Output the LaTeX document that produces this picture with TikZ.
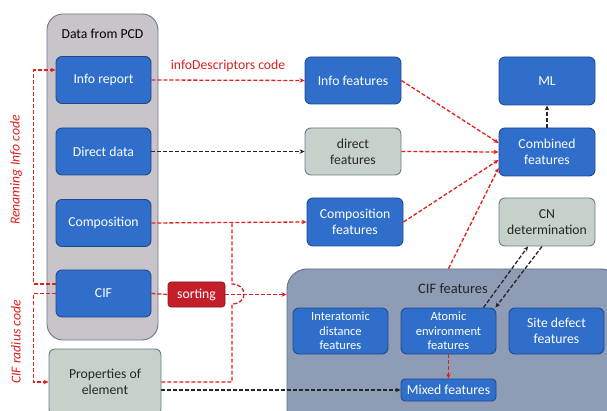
\documentclass[tikz,border=0pt]{standalone}
\usepackage{fontspec}
\setmainfont{Carlito}
\usetikzlibrary{arrows.meta}
\definecolor{bluebox}{HTML}{2F6FCB}
\definecolor{blueedge}{HTML}{1F4A8C}
\definecolor{greenbox}{HTML}{C6D2C9}
\definecolor{greenedge}{HTML}{6B7A8C}
\definecolor{pcdfill}{HTML}{C9C4CA}
\definecolor{pcdedge}{HTML}{6D7890}
\definecolor{ciffill}{HTML}{8E9CB6}
\definecolor{cifedge}{HTML}{5E6E8C}
\definecolor{redline}{HTML}{E0201E}
\definecolor{sortfill}{HTML}{C41E2A}
\tikzset{
  bbox/.style={draw=blueedge, fill=bluebox, line width=0.9pt, rounded corners=6pt,
    text=white, align=center, font=\fontsize{13.7}{16}\selectfont, inner sep=1pt},
  gbox/.style={draw=greenedge, fill=greenbox, line width=0.9pt, rounded corners=6pt,
    text=black!85, align=center, font=\fontsize{13.7}{16}\selectfont, inner sep=1pt},
  rline/.style={draw=redline, line width=1.3pt, dash pattern=on 4pt off 2pt},
  kline/.style={draw=black!85, line width=1.3pt, dash pattern=on 4pt off 2pt},
  tip/.style={-{Stealth[length=5pt,width=4.5pt]}},
}
\begin{document}
\begin{tikzpicture}[x=1pt,y=-1pt]
\clip (0,0) rectangle (607,411);
\fill[white] (0,0) rectangle (607,411);
% containers
\node[draw=pcdedge, fill=pcdfill, line width=0.9pt, rounded corners=16pt,
  minimum width=111pt, minimum height=326pt] (pcd) at (102.5,177) {};
\node[font=\fontsize{13.7}{16}\selectfont, text=black] (pcdt) at (102.5,34) {Data from PCD};
\node[draw=cifedge, fill=ciffill, line width=0.9pt, rounded corners=20pt,
  minimum width=334pt, minimum height=170pt] (ciff) at (454,354) {};
\node[font=\fontsize{14.5}{17}\selectfont, text=black!85] (ciftitle) at (453,289) {CIF features};
% left column
\node[bbox, minimum width=95pt, minimum height=47pt] (inforep) at (103.5,80) {Info report};
\node[bbox, minimum width=95pt, minimum height=47pt] (direct) at (103.5,151.5) {Direct data};
\node[bbox, minimum width=95pt, minimum height=47pt] (comp) at (103.5,223) {Composition};
\node[bbox, minimum width=95pt, minimum height=47pt] (cif) at (103.5,293.5) {CIF};
\node[gbox, minimum width=112pt, minimum height=66pt] (props) at (105,382) {Properties of\\element};
\node[draw=sortfill!70!black, fill=sortfill, rounded corners=3pt, line width=0.6pt,
  minimum width=57pt, minimum height=25pt, text=white, font=\fontsize{13.7}{16}\selectfont,
  inner sep=1pt] (sorting) at (196.5,294.5) {sorting};
% middle column
\node[bbox, minimum width=96pt, minimum height=47pt] (infof) at (353,80.5) {Info features};
\node[gbox, minimum width=96pt, minimum height=47pt] (directf) at (353,151.5) {direct\\features};
\node[bbox, minimum width=96pt, minimum height=48pt] (compf) at (355,222) {Composition\\features};
% right column
\node[bbox, minimum width=96pt, minimum height=48pt] (ml) at (547,81) {ML};
\node[bbox, minimum width=96pt, minimum height=48pt] (comb) at (547,152) {Combined\\features};
\node[gbox, minimum width=96pt, minimum height=48pt] (cn) at (547,222) {CN\\determination};
% CIF features content
\node[bbox, minimum width=95pt, minimum height=46pt, font=\fontsize{12.5}{14.5}\selectfont] (inter) at (340.5,331) {Interatomic\\distance\\features};
\node[bbox, minimum width=95pt, minimum height=46pt, font=\fontsize{12.5}{14.5}\selectfont] (atomic) at (448.5,331) {Atomic\\environment\\features};
\node[bbox, minimum width=95pt, minimum height=46pt] (site) at (556.5,331) {Site defect\\features};
\node[bbox, minimum width=95pt, minimum height=22pt, rounded corners=4pt] (mixed) at (448.5,390) {Mixed features};
% connectors
\draw[rline, tip] (inforep.east) -- (infof.west)
  node[midway, above=5pt, text=redline, font=\fontsize{13.7}{16}\selectfont] (idlabel) {infoDescriptors code};
\draw[kline, tip] (direct.east) -- (directf.west);
\draw[rline, tip] (comp.east) -- (compf.west);
\coordinate (jt) at (232,223);
\coordinate (jb) at (232,382);
\draw[rline] (props.east) -- (jb) -- (232,304) .. controls (248,304) and (248,284) .. (232,284) -- (jt);
\draw[rline] (cif.east) -- (sorting.west);
\draw[rline, tip] (sorting.east) -- (sorting.east -| ciff.west);
\draw[rline, tip] ([yshift=9.5pt]cif.west) -- ++(-22,0) |- ([yshift=10pt]inforep.west);
\draw[rline, tip] (cif.west) -- ++(-22,0) |- (props.west);
\draw[kline, tip] (props.east |- mixed.west) -- (mixed.west);
\draw[rline, tip] (infof.east) -- ([yshift=9pt]comb.west);
\draw[rline, tip] (directf.east) -- (comb.west);
\draw[rline, tip] (compf.east) -- ([yshift=-8pt]comb.west);
\draw[rline, tip] (atomic.north |- ciff.north) -- ([yshift=-16pt]comb.west);
\draw[kline, tip] (comb.north) -- (ml.south);
\draw[kline, tip] ([xshift=35pt]atomic.north) -- ([xshift=-19pt]cn.south);
\draw[kline, tip] ([xshift=-5pt]cn.south) -- ([xshift=-1pt]atomic.north east);
\draw[rline, tip] (atomic.south) -- (mixed.north);
% side labels
\node[rotate=90, text=redline, font=\fontsize{13.7}{16}\selectfont\itshape] (renlab) at (16,170) {Renaming Info code};
\node[rotate=90, text=redline, font=\fontsize{13.7}{16}\selectfont\itshape] (radlab) at (16,342) {CIF radius code};
\end{tikzpicture}
\end{document}
